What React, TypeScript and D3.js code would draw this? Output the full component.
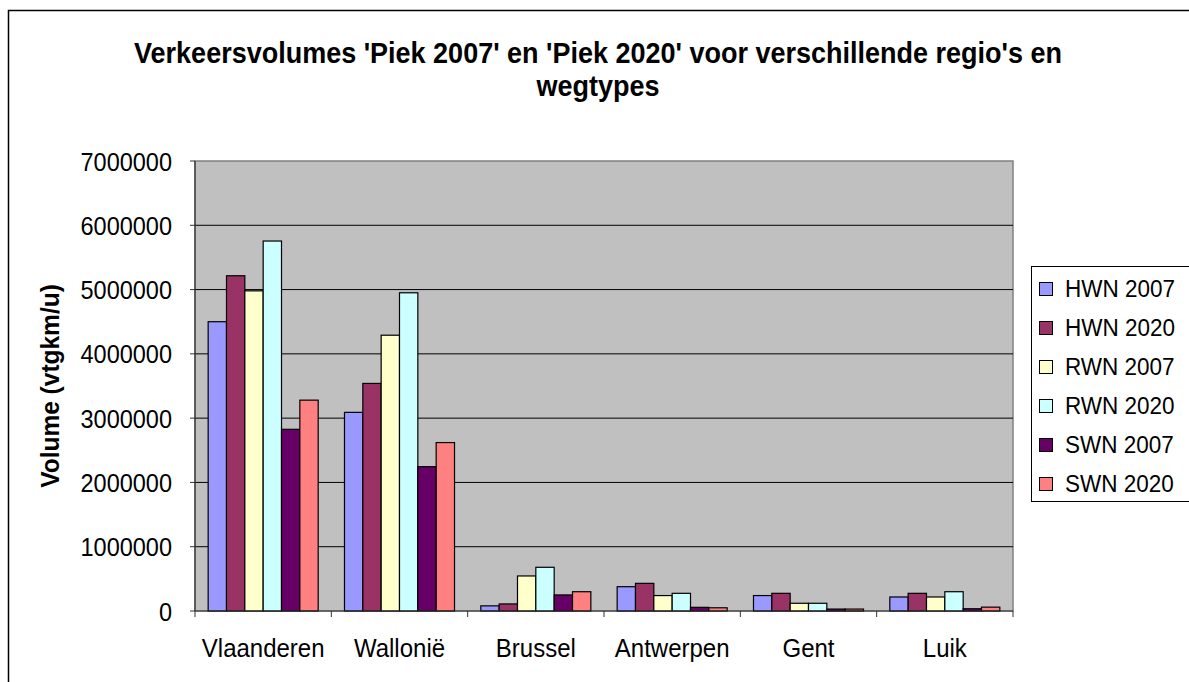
import React from "react";
import * as d3 from "d3";

const categories = ["Vlaanderen", "Wallonië", "Brussel", "Antwerpen", "Gent", "Luik"];
const seriesNames = ["HWN 2007", "HWN 2020", "RWN 2007", "RWN 2020", "SWN 2007", "SWN 2020"];
const seriesColors = ["#9999FF", "#993366", "#FFFFCC", "#CCFFFF", "#660066", "#FF8080"];
const hwn2007 = [4500000, 3090000, 80000, 378000, 240000, 218000];
const hwn2020 = [5215000, 3540000, 110000, 430000, 275000, 275000];
const rwn2007 = [4980000, 4290000, 545000, 240000, 120000, 218000];
const rwn2020 = [5755000, 4950000, 680000, 275000, 120000, 300000];
const swn2007 = [2826000, 2245000, 250000, 57000, 30000, 35000];
const swn2020 = [3280000, 2620000, 300000, 50000, 30000, 60000];
const seriesValues = [hwn2007, hwn2020, rwn2007, rwn2020, swn2007, swn2020];
const yTicks = [0, 1000000, 2000000, 3000000, 4000000, 5000000, 6000000, 7000000];
const titleLines = ["Verkeersvolumes 'Piek 2007' en 'Piek 2020' voor verschillende regio's en", "wegtypes"];
const yTitle = "Volume (vtgkm/u)";

const W = 1189, H = 682;
const plot = { left: 195, right: 1013, top: 161, bottom: 611 };
const font = "'Liberation Sans', Arial, sans-serif";
const SY = 1.07;

function T(props: { x: number; y: number; size: number; anchor?: string; bold?: boolean; rotate?: number; children: React.ReactNode }) {
  const { x, y, size, anchor = "start", bold = false, rotate = 0, children } = props;
  return (
    <g transform={`translate(${x},${y}) rotate(${rotate}) scale(1,${SY})`}>
      <text x={0} y={0} textAnchor={anchor as any} fontSize={size} fontWeight={bold ? "bold" : "normal"} fill="#000">{children}</text>
    </g>
  );
}

export default function App() {
  const x = d3.scaleBand<string>().domain(categories).range([plot.left, plot.right]).paddingInner(0).paddingOuter(0);
  const y = d3.scaleLinear().domain([0, 7000000]).range([plot.bottom, plot.top]);
  const bw = x.bandwidth();
  const groupW = bw * (110 / 136.3);
  const inner = d3.scaleBand<string>().domain(seriesNames).range([0, groupW]).padding(0);

  return (
    <svg width={W} height={H} style={{ position: "absolute", left: 0, top: 0, display: "block" }} fontFamily={font}>
      <rect x={0} y={0} width={W} height={H} fill="#fff" />
      <rect x={8.5} y={10.5} width={W + 20} height={H + 20} fill="none" stroke="#000" strokeWidth={1.5} />
      {titleLines.map((t, i) => (
        <T key={i} x={598} y={63 + i * 33} size={27} anchor="middle" bold>{t}</T>
      ))}
      <rect x={plot.left} y={plot.top} width={plot.right - plot.left} height={plot.bottom - plot.top} fill="#C0C0C0" stroke="#808080" strokeWidth={1.5} />
      {yTicks.filter(v => v > 0 && v < 7000000).map(v => (
        <line key={v} x1={plot.left} x2={plot.right} y1={y(v)} y2={y(v)} stroke="#000" strokeWidth={1} />
      ))}
      {categories.map((c, ci) => seriesNames.map((s, si) => {
        const v = seriesValues[si][ci];
        const x0 = (x(c) as number) + (bw - groupW) / 2 + (inner(s) as number);
        return (
          <rect key={c + s} x={x0} y={y(v)} width={inner.bandwidth()} height={plot.bottom - y(v)} fill={seriesColors[si]} stroke="#000" strokeWidth={1.2} />
        );
      }))}
      <line x1={plot.left} x2={plot.left} y1={plot.top} y2={plot.bottom} stroke="#333" strokeWidth={1.2} />
      <line x1={plot.left} x2={plot.right} y1={plot.bottom} y2={plot.bottom} stroke="#333" strokeWidth={1.2} />
      {yTicks.map(v => (
        <g key={v}>
          <line x1={plot.left - 5} x2={plot.left} y1={y(v)} y2={y(v)} stroke="#333" />
          <T x={172} y={y(v) + 9.5} size={23.5} anchor="end">{v}</T>
        </g>
      ))}
      {categories.map((c, i) => (
        <line key={"t" + i} x1={x(c) as number} x2={x(c) as number} y1={plot.bottom} y2={plot.bottom + 6} stroke="#333" />
      ))}
      <line x1={plot.right} x2={plot.right} y1={plot.bottom} y2={plot.bottom + 6} stroke="#333" />
      {categories.map(c => (
        <T key={"l" + c} x={(x(c) as number) + bw / 2} y={657} size={24} anchor="middle">{c}</T>
      ))}
      <T x={59} y={386} size={24.5} anchor="middle" bold rotate={-90}>{yTitle}</T>
      <rect x={1031.5} y={266.5} width={200} height={235} fill="#fff" stroke="#000" strokeWidth={1} />
      {seriesNames.map((s, i) => (
        <g key={"lg" + s}>
          <rect x={1039.5} y={282.5 + i * 39} width={13} height={13} fill={seriesColors[i]} stroke="#000" strokeWidth={1} />
          <T x={1065} y={297 + i * 39} size={22.5}>{s}</T>
        </g>
      ))}
    </svg>
  );
}
